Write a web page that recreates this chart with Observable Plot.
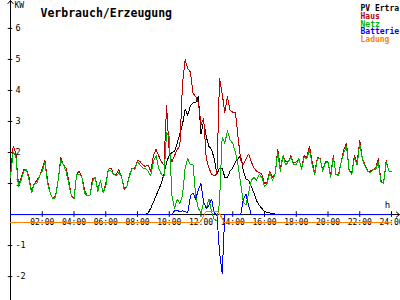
<!DOCTYPE html>
<html><head><meta charset="utf-8">
<script src="https://cdn.jsdelivr.net/npm/d3@7"></script>
<script src="https://cdn.jsdelivr.net/npm/@observablehq/plot@0.6"></script>
<style>body{margin:0;background:#fff}#chart{position:relative;width:400px;height:300px}</style>
</head><body><div id="chart"></div>
<script>
// samples every 10 minutes, 00:00 .. 24:00 (145 values), one group of 6 per hour
const haus = [
 1.3,2.2,2.0,0.9,1.2,1.45, 1.45,1.2,0.75,1.0,1.1,1.25, 1.5,1.75,1.1,0.7,0.5,0.6, 1.1,1.85,1.6,1.5,1.1,0.6,
 0.55,1.3,1.4,1.2,0.8,0.6, 0.6,1.15,1.2,0.8,1.1,0.7, 1.0,1.45,1.5,1.3,1.3,1.45, 1.2,0.85,0.9,1.3,1.5,1.5,
 1.75,1.7,1.6,1.55,1.6,1.4, 1.9,2.1,1.9,1.7,1.6,3.5, 2.0,1.7,1.9,2.1,2.2,4.2, 5.0,4.7,4.6,3.9,3.8,3.6,
 2.9,3.1,1.8,1.5,1.3,1.25, 1.3,4.4,3.9,3.3,3.8,3.35, 3.3,3.3,2.5,1.75,1.6,1.8, 1.95,1.7,1.5,1.4,1.35,1.3,
 1.0,1.05,1.4,1.2,1.3,2.1, 1.5,1.9,1.7,1.7,1.9,1.65, 1.7,1.8,1.5,1.9,1.85,2.2, 1.7,1.35,1.85,1.8,1.45,1.7,
 1.7,1.25,1.9,1.3,1.3,1.7, 2.1,2.3,1.4,1.35,1.9,1.65, 2.4,1.8,1.6,1.4,1.4,1.45, 1.5,1.8,1.1,1.0,1.75,1.4,
 1.4
];
const netz = [
 1.2,2.0,1.9,0.9,1.1,1.4, 1.45,1.1,0.7,1.0,1.0,1.25, 1.4,1.7,1.0,0.7,0.5,0.55, 1.1,1.75,1.6,1.4,1.0,0.6,
 0.5,1.3,1.3,1.2,0.7,0.6, 0.6,1.05,1.2,0.75,1.1,0.7, 0.9,1.45,1.4,1.3,1.25,1.35, 1.2,0.8,0.9,1.25,1.5,1.45,
 1.7,1.6,1.5,1.5,1.4,1.25, 1.7,1.9,1.5,1.3,1.2,2.65, 2.5,0.6,0.2,0.5,0.35,0.6, 1.5,1.8,1.6,1.6,0.6,0.2,
 0.05,0.4,0.2,0.5,0.1,-0.15, -0.2,0.4,2.5,2.3,2.7,2.4, 2.3,2.0,1.6,1.0,0.4,0.3, 0.7,1.1,1.2,1.1,1.3,1.2,
 0.9,1.0,1.35,1.1,1.3,2.0, 1.4,1.9,1.6,1.7,1.85,1.6, 1.6,1.8,1.45,1.85,1.8,2.1, 1.6,1.3,1.8,1.8,1.4,1.65,
 1.7,1.2,1.85,1.3,1.25,1.7, 2.0,2.2,1.4,1.3,1.85,1.6, 2.3,1.8,1.55,1.4,1.35,1.45, 1.45,1.7,1.05,1.0,1.7,1.4,
 1.4
];
const pv = [
 0,0,0,0,0,0, 0,0,0,0,0,0, 0,0,0,0,0,0, 0,0,0,0,0,0,
 0,0,0,0,0,0, 0,0,0,0,0,0, 0,0,0,0,0,0, 0,0,0,0,0,0,
 0,0,0,0,0.05,0.2, 0.4,0.6,0.8,1.0,1.3,1.7, 1.9,2.0,2.05,2.3,2.6,2.9, 3.4,3.2,3.5,3.6,3.6,3.8,
 2.6,3.0,2.5,2.2,2.1,1.8, 1.3,1.5,1.5,1.2,1.2,1.4, 1.5,1.7,1.8,1.9,1.4,1.15, 1.1,0.9,0.7,0.45,0.3,0.2,
 0.1,0.06,0.05,0.03,0.02,0, 0,0,0,0,0,0, 0,0,0,0,0,0, 0,0,0,0,0,0,
 0,0,0,0,0,0, 0,0,0,0,0,0, 0,0,0,0,0,0, 0,0,0,0,0,0,
 0
];
const batterie = [
 0,0,0,0,0,0, 0,0,0,0,0,0, 0,0,0,0,0,0, 0,0,0,0,0,0,
 0,0,0,0,0,0, 0,0,0,0,0,0, 0,0,0,0,0,0, 0,0,0,0,0,0,
 0,0,0,0,0,0, 0,0,0,0,0,0, 0,0,0.12,0.13,0.1,0.12, 0.1,0.05,0.6,0.7,0.5,0.8,
 1.0,0.4,0.2,0.3,0.5,0.05, 0,-1.2,-1.9,0,0,0, 0,0,0,0,0.5,0.65, 0.3,0,0,0,0,0,
 0,0,0,0,0,0, 0,0,0,0,0,0, 0,0,0,0,0,0, 0,0,0,0,0,0,
 0,0,0,0,0,0, 0,0,0,0,0,0, 0,0,0,0,0,0, 0,0,0,0,0,0,
 0
];
const ladungHours = [0, 11.9, 12.1, 12.3, 12.45, 12.95, 13.1, 13.3, 13.5, 24];
const ladungValues = [-0.25, -0.25, -0.1, 0.08, 0.1, 0.1, 0.08, -0.1, -0.25, -0.25];

const xTicks = [2,4,6,8,10,12,14,16,18,20,22,24];
const xTickLabels = ["02:00","04:00","06:00","08:00","10:00","12:00","14:00","16:00","18:00","20:00","22:00","24:00"];
const yTicks = [-2,-1,1,2,3,4,5,6];
const seriesNames = ["PV Ertra","Haus","Netz","Batterie","Ladung"];
const seriesColors = ["#000000","#c00000","#00b000","#0000ff","#ff8000"];
const title = "Verbrauch/Erzeugung";

const rows = vals => vals.map((v, i) => ({t: i / 6, v}));
const ladung = ladungHours.map((t, i) => ({t, v: ladungValues[i]}));
const font = "DejaVu Sans Mono";
const line = (data, color, curve) => Plot.line(data, {x: "t", y: "v", stroke: color, strokeWidth: 1, curve, shapeRendering: "crispEdges"});

const chart = Plot.plot({
  width: 400, height: 300,
  marginLeft: 10, marginRight: 9, marginTop: 0, marginBottom: 0,
  x: {domain: [0, 24], axis: null},
  y: {domain: [-2.77, 6.9], axis: null},
  style: {fontFamily: font, background: "#fff"},
  marks: [
    Plot.arrow([0], {x1: 0, x2: 0, y1: -2.77, y2: 6.9, stroke: "#000", strokeWidth: 1, headLength: 6, headAngle: 80}),
    Plot.arrow([0], {x1: 0, x2: 24.5, y1: 0, y2: 0, stroke: "#000", strokeWidth: 1, headLength: 6, headAngle: 80}),
    Plot.ruleY(yTicks, {y: d => d, x1: -0.14, x2: 0.14, stroke: "#000"}),
    Plot.ruleX(xTicks, {x: d => d, y1: -0.09, y2: 0.09, stroke: "#000"}),
    Plot.text(yTicks, {x: 0, y: d => d, text: d => String(d), dx: 5, textAnchor: "start", fontSize: 8.5, fill: "#000"}),
    Plot.text(xTicks, {x: d => d, y: 0, text: (d, i) => xTickLabels[i], dy: 8, fontSize: 8, fill: "#000"}),
    Plot.text(["KW"], {x: 0, y: 6.9, text: d => d, dx: 4, dy: 5, textAnchor: "start", fontSize: 8, fill: "#000"}),
    Plot.text(["h"], {x: 24, y: 0, text: d => d, dx: -4, dy: -9, fontSize: 9, fill: "#000"}),
    Plot.text([title], {frameAnchor: "top-left", text: d => d, dx: 30, dy: 8, textAnchor: "start", fontSize: 11.5, fontWeight: "bold", fill: "#000"}),
    ...seriesNames.map((name, i) => Plot.text([name], {frameAnchor: "top-left", text: d => d, dx: 350, dy: 5 + i * 7.75, textAnchor: "start", fontSize: 8, fontWeight: "bold", fill: seriesColors[i]})),
    line(rows(pv), seriesColors[0], "linear"),
    line(rows(haus), seriesColors[1], "linear"),
    line(rows(netz), seriesColors[2], "linear"),
    line(rows(batterie), seriesColors[3], "linear"),
    line(ladung, seriesColors[4], "monotone-x")
  ]
});
document.getElementById("chart").appendChild(chart);
</script>
</body></html>
